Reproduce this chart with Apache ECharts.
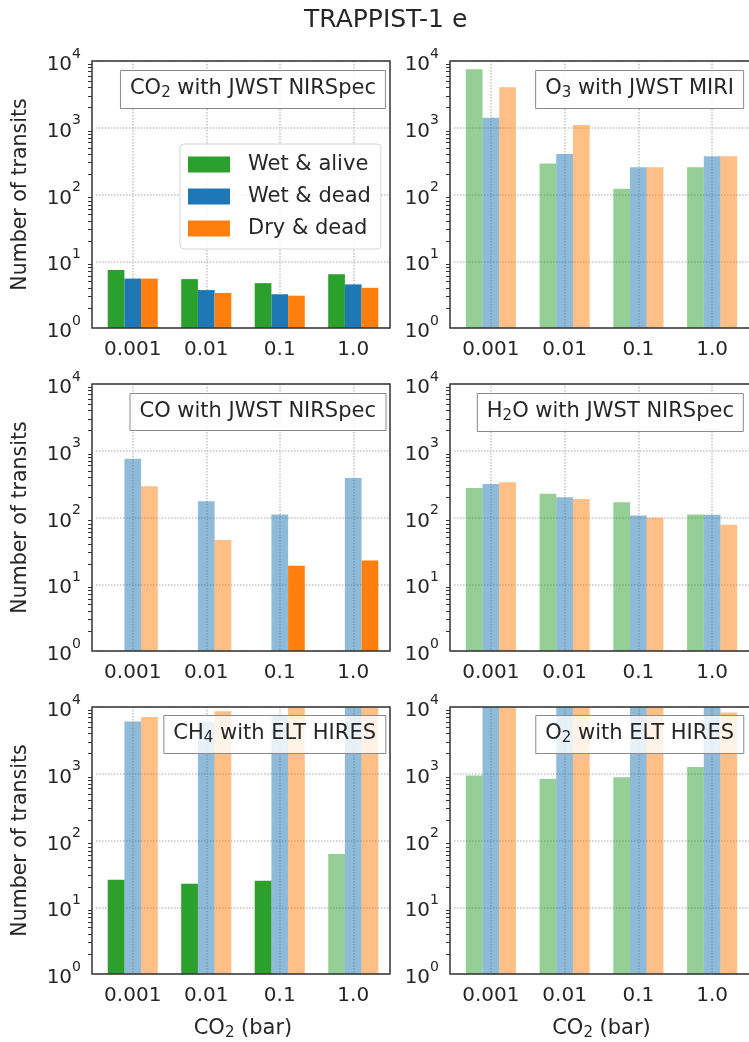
<!DOCTYPE html>
<html>
<head>
<meta charset="utf-8">
<script src="https://cdn.jsdelivr.net/npm/echarts@6/dist/echarts.min.js"></script>
<style>html,body{margin:0;padding:0;background:#fff;}#chart{width:749px;height:1042px;}</style>
</head>
<body>
<div id="chart"></div>
<script>
// ---------------- data ----------------
const categories = ['0.001', '0.01', '0.1', '1.0'];           // CO2 partial pressure (bar)
const seriesNames = ['Wet & alive', 'Wet & dead', 'Dry & dead'];
const yTickValues = [1, 10, 100, 1000, 10000];

// CO2 with JWST NIRSpec
const co2WetAlive = [7.4, 5.4, 4.7, 6.4];
const co2WetDead  = [5.5, 3.7, 3.2, 4.5];
const co2DryDead  = [5.5, 3.35, 3.05, 4.0];
// O3 with JWST MIRI
const o3WetAlive = [7500, 292, 122, 255];
const o3WetDead  = [1410, 405, 255, 373];
const o3DryDead  = [4060, 1100, 255, 373];
// CO with JWST NIRSpec (no wet & alive values)
const coWetAlive = [null, null, null, null];
const coWetDead  = [760, 175, 111, 390];
const coDryDead  = [293, 46, 19, 22.6];
// H2O with JWST NIRSpec
const h2oWetAlive = [277, 226, 169, 111];
const h2oWetDead  = [318, 201, 107, 110];
const h2oDryDead  = [336, 190, 99, 78];
// CH4 with ELT HIRES (values above 10^4 run off the axis)
const ch4WetAlive = [25.9, 22.5, 25, 62.8];
const ch4WetDead  = [6090, 6000, 7500, 20000];
const ch4DryDead  = [7080, 8600, 20000, 20000];
// O2 with ELT HIRES
const o2WetAlive = [945, 834, 883, 1262];
const o2WetDead  = [20000, 20000, 20000, 20000];
const o2DryDead  = [20000, 20000, 20000, 8300];

// bars below this number of transits are drawn solid, others faded
const FEASIBLE_LIMIT = 30;

// ---------------- styling / layout ----------------
const COLORS = ['#2ca02c', '#1f77b4', '#ff7f0e'];
const TXT = '#262626';
const FONT = 'DejaVu Sans';
const panels = [
  {label: '{t|CO}{s|2}{t| with JWST NIRSpec}', data: [co2WetAlive, co2WetDead, co2DryDead]},
  {label: '{t|O}{s|3}{t| with JWST MIRI}',     data: [o3WetAlive, o3WetDead, o3DryDead]},
  {label: '{t|CO with JWST NIRSpec}',          data: [coWetAlive, coWetDead, coDryDead]},
  {label: '{t|H}{s|2}{t|O with JWST NIRSpec}', data: [h2oWetAlive, h2oWetDead, h2oDryDead]},
  {label: '{t|CH}{s|4}{t| with ELT HIRES}',    data: [ch4WetAlive, ch4WetDead, ch4DryDead]},
  {label: '{t|O}{s|2}{t| with ELT HIRES}',     data: [o2WetAlive, o2WetDead, o2DryDead]}
];
const ROW_TOP = [61, 384, 707];
const ROW_H = 267;
const FRAME_LEFT = [92, 450];
const FRAME_W = [298, 300];
const GRID_SHIFT = 4;
const GRID_W = [294, 296];
const LABEL_RIGHT = [363, 5];
const LABEL_TOP = [69, 392, 714];

// minor tick positions on the log axis (2..9 x 10^d), expressed in decades
const minorTickDecades = [];
for (let d = 0; d < 4; d++) for (let k = 2; k <= 9; k++) minorTickDecades.push(d + Math.log10(k));

const richText = {
  t: {fontFamily: FONT, fontSize: 21, fontWeight: 'normal', lineHeight: 24, color: TXT},
  s: {fontFamily: FONT, fontSize: 15, fontWeight: 'normal', lineHeight: 15, verticalAlign: 'bottom', color: TXT}
};

const grids = [], xAxes = [], yAxes = [], series = [], titles = [], graphics = [];

titles.push({text: 'TRAPPIST-1 e', left: 299, top: 3,
  textStyle: {fontFamily: FONT, fontSize: 25, fontWeight: 'normal', color: TXT}});

panels.forEach((p, i) => {
  const row = Math.floor(i / 2), col = i % 2;
  grids.push({left: FRAME_LEFT[col] + GRID_SHIFT, top: ROW_TOP[row], width: GRID_W[col], height: ROW_H});
  xAxes.push({
    type: 'category', gridIndex: i, data: categories,
    axisLine: {show: false},
    axisTick: {alignWithLabel: true, interval: 0, length: 7, lineStyle: {color: '#333', width: 1.5}},
    axisLabel: {fontFamily: FONT, fontSize: 20, color: TXT, margin: 12, interval: 0},
    splitLine: {show: true, interval: 0, alignWithLabel: true, lineStyle: {type: 'dotted', color: '#c4c4c4', width: 1.5}},
    name: row === 2 ? '{t|CO}{s|2}{t| (bar)}' : '',
    nameLocation: 'middle', nameGap: 43,
    nameTextStyle: {rich: richText}
  });
  yAxes.push({
    type: 'log', logBase: 10, gridIndex: i, min: 1, max: 10000, position: 'left', offset: GRID_SHIFT,
    axisLine: {show: false},
    axisTick: {length: 7, customValues: yTickValues, lineStyle: {color: '#333', width: 1.5}},
    axisLabel: {
      customValues: yTickValues, margin: 11, showMinLabel: true, showMaxLabel: true,
      formatter: v => '{b|10}{s|' + Math.round(Math.log10(v)) + '}',
      rich: {
        b: {fontFamily: FONT, fontSize: 20, lineHeight: 28, verticalAlign: 'bottom', color: TXT},
        s: {fontFamily: FONT, fontSize: 14, lineHeight: 14, verticalAlign: 'top', color: TXT}
      }
    },
    splitLine: {show: true, lineStyle: {type: 'dotted', color: '#c4c4c4', width: 1.5}},
    name: col === 0 ? 'Number of transits' : '',
    nameLocation: 'middle', nameGap: 61,
    nameTextStyle: {fontFamily: FONT, fontSize: 20.5, color: TXT}
  });
  // companion axis (same span in decades) that only carries the minor ticks
  yAxes.push({
    type: 'value', gridIndex: i, min: 0, max: 4, position: 'left', offset: GRID_SHIFT,
    axisLine: {show: false}, axisLabel: {show: false}, splitLine: {show: false},
    axisTick: {show: true, length: 4, customValues: minorTickDecades, lineStyle: {color: '#333', width: 1}}
  });
  p.data.forEach((vals, s) => {
    series.push({
      type: 'bar', name: seriesNames[s], xAxisIndex: i, yAxisIndex: i * 2,
      barWidth: 16.7, barGap: '0%',
      itemStyle: {color: COLORS[s]},
      data: vals.map(v => ({value: v, itemStyle: {opacity: (v !== null && v < FEASIBLE_LIMIT) ? 1 : 0.5}})),
      animation: false
    });
  });
  titles.push({
    text: p.label, right: LABEL_RIGHT[col], top: LABEL_TOP[row],
    padding: [8, 10, 8, 10], borderColor: '#8a8a8a', borderWidth: 1,
    backgroundColor: 'rgba(255,255,255,0.8)',
    textStyle: {fontWeight: 'normal', rich: richText}
  });
  graphics.push({
    type: 'rect', z: 100, silent: true,
    shape: {x: FRAME_LEFT[col], y: ROW_TOP[row], width: FRAME_W[col], height: ROW_H},
    style: {fill: 'none', stroke: '#333', lineWidth: 1.5}
  });
});

const chart = echarts.init(document.getElementById('chart'), null, {renderer: 'canvas'});
chart.setOption({
  animation: false,
  backgroundColor: '#ffffff',
  textStyle: {fontFamily: FONT},
  title: titles,
  legend: {
    data: seriesNames, left: 180, top: 144, orient: 'vertical',
    icon: 'rect', itemWidth: 42, itemHeight: 16, itemGap: 11,
    padding: [10, 10, 10, 8], borderColor: '#d5d5d5', borderWidth: 1, borderRadius: 4,
    backgroundColor: 'rgba(255,255,255,0.8)',
    textStyle: {fontFamily: FONT, fontSize: 21, color: TXT, padding: [0, 0, 0, 13]}
  },
  grid: grids,
  xAxis: xAxes,
  yAxis: yAxes,
  series: series,
  graphic: graphics
});
</script>
</body>
</html>
